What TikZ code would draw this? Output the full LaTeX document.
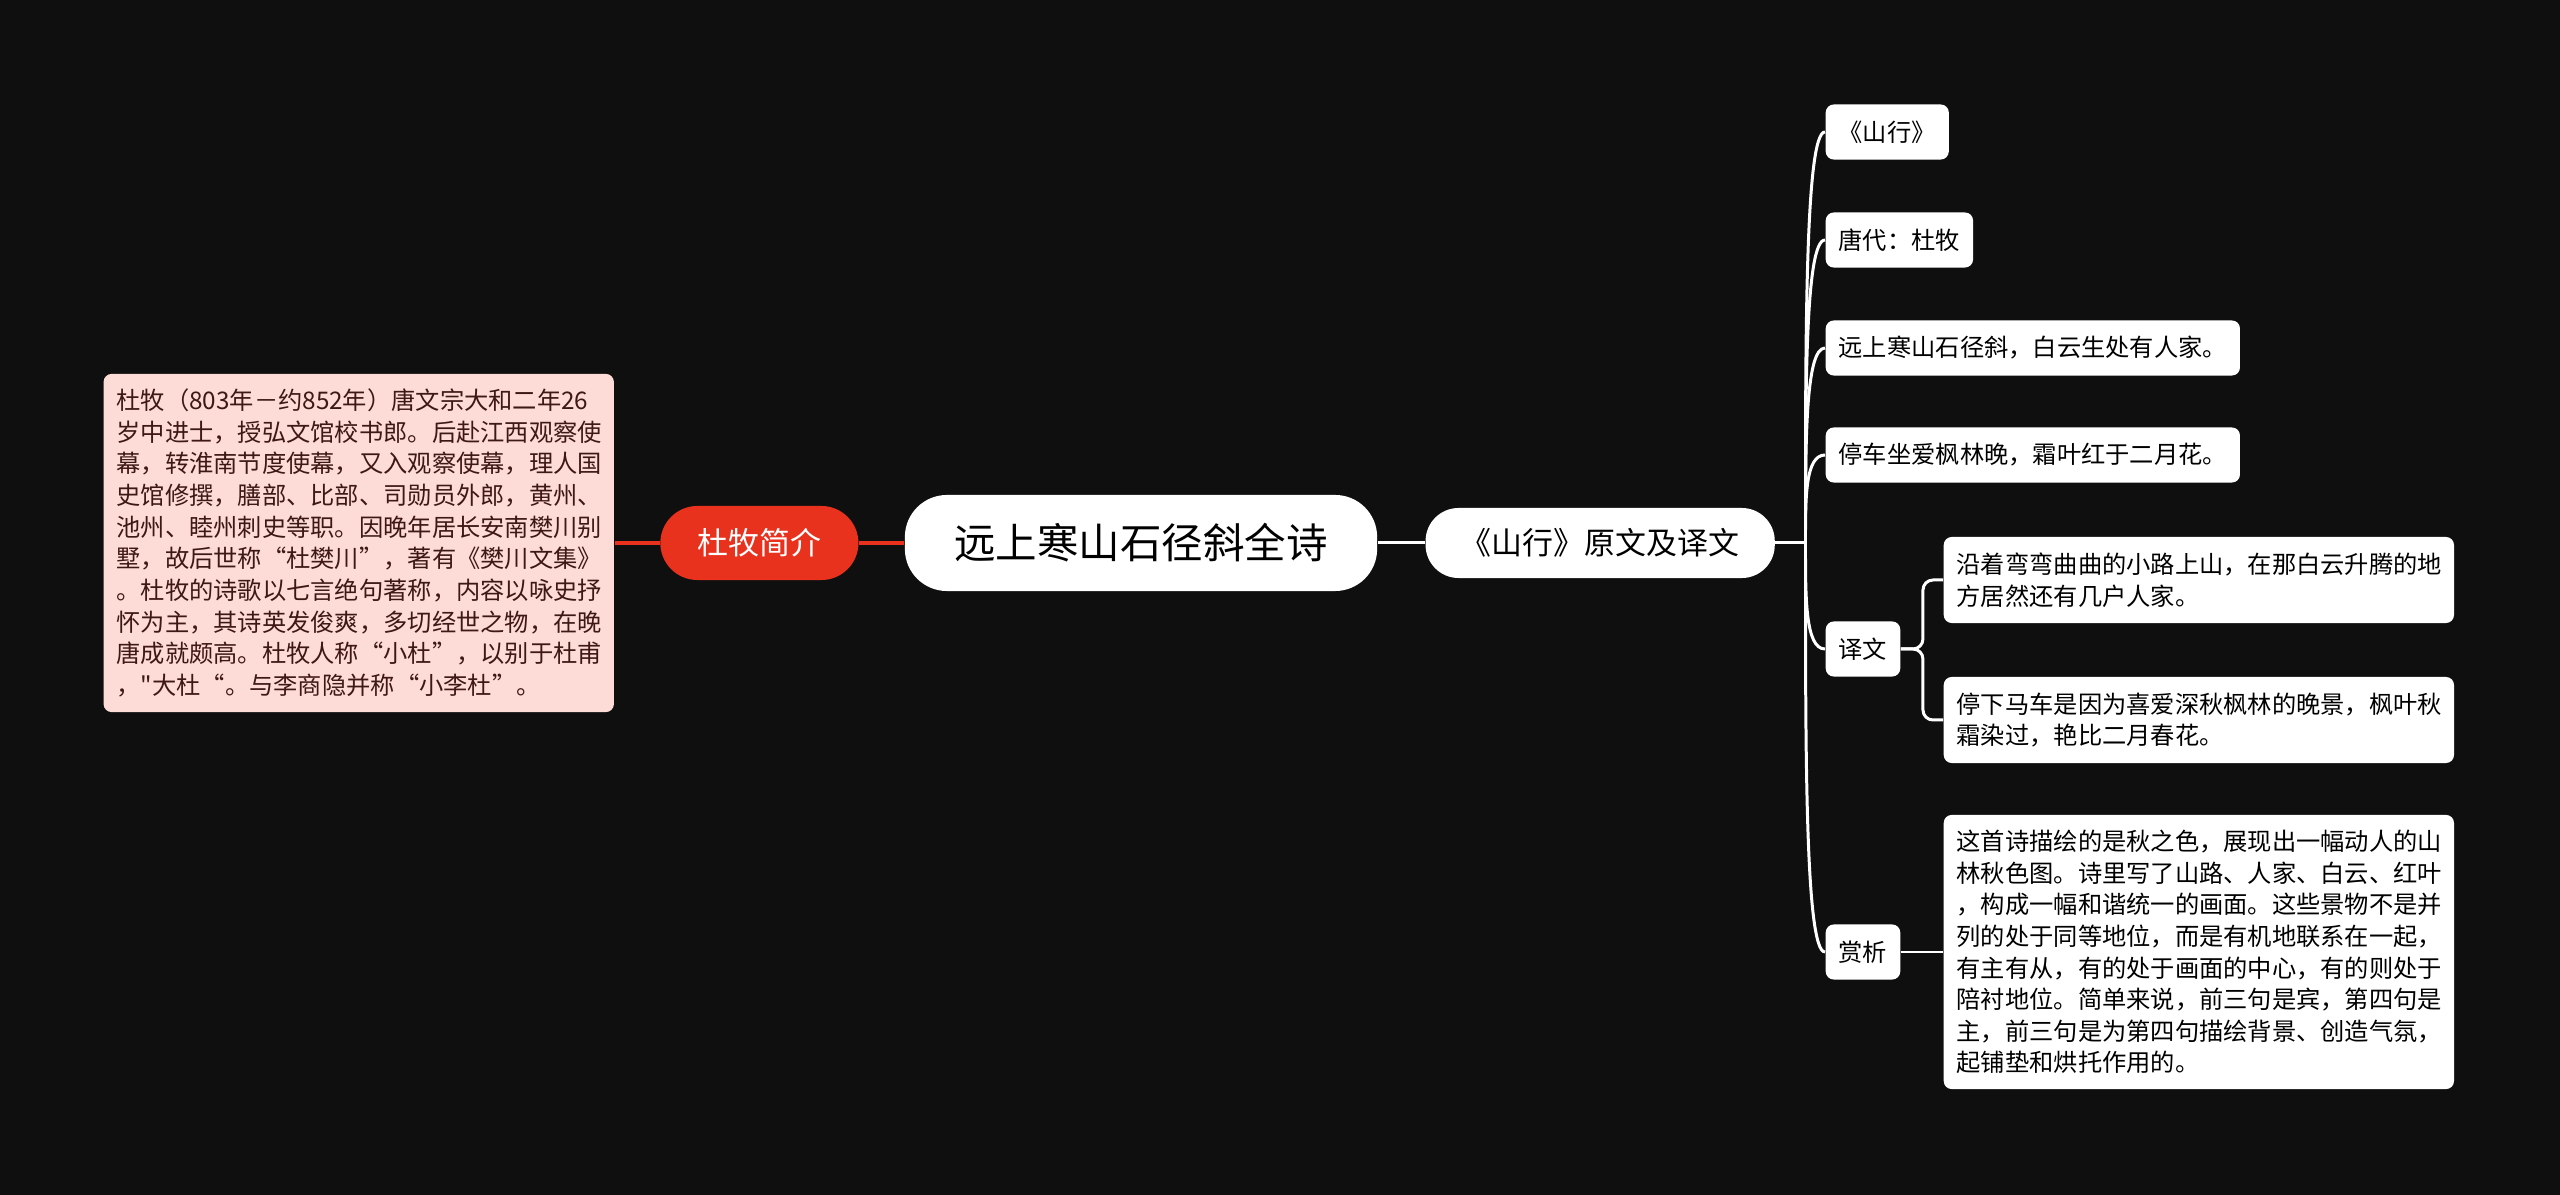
\documentclass[tikz,border=0pt]{standalone}
\usepackage{fontspec}
\setmainfont{Noto Sans CJK SC}[Ligatures=TeXOff]
\usetikzlibrary{positioning,calc}
\definecolor{mapBg}{RGB}{15,15,15}
\definecolor{mapRed}{RGB}{232,50,30}
\definecolor{mapPink}{RGB}{253,219,214}
\definecolor{mapBrown}{RGB}{62,24,20}
\tikzset{
	poembox/.style={
		align=left,
		inner xsep=0.13cm,
		inner ysep=0pt,
		rounded corners=0.08cm,
		font=\fontsize{6.9pt}{9pt}\selectfont
	},
	poemRoot/.style={fill=white, text=black, minimum width=4.72cm, minimum height=0.96cm, rounded corners=0.42cm, inner sep=0pt, font=\fontsize{11.8pt}{14pt}\selectfont},
	poemTopic/.style={fill=white, text=black, minimum width=3.49cm, minimum height=0.70cm, rounded corners=0.33cm, inner sep=0pt, font=\fontsize{8.8pt}{10pt}\selectfont},
	poemHot/.style={poemTopic, fill=mapRed, text=white, minimum width=1.98cm, minimum height=0.74cm, rounded corners=0.37cm},
	poemNote/.style={poembox, fill=mapPink, text=mapBrown, text width=4.84cm, minimum height=3.38cm},
	poemLeaf/.style={poembox, fill=white, text=black, minimum height=0.55cm, anchor=west},
	poemWide/.style={poemLeaf, text width=4.84cm},
	poemFlow/.style={draw=white, line width=0.85pt},
	poemRedFlow/.style={draw=mapRed, line width=1pt}
}

\begin{document}
\begin{tikzpicture}[x=0.01cm, y=-0.01cm]

	% Background
	\fill[mapBg] (0,0) rectangle (2560,1195);

	% Main row
	\node[poemRoot] (title) at (1141,543) {远上寒山石径斜全诗};
	\node[poemHot, left=0.45cm of title] (bio) {杜牧简介};
	\node[poemNote, left=0.45cm of bio] (biotext)
	{杜牧（803年－约852年）唐文宗大和二年26\\
	岁中进士，授弘文馆校书郎。后赴江西观察使\\
	幕，转淮南节度使幕，又入观察使幕，理人国\\
	史馆修撰，膳部、比部、司勋员外郎，黄州、\\
	池州、睦州刺史等职。因晚年居长安南樊川别\\
	墅，故后世称“杜樊川”，著有《樊川文集》\\
	。杜牧的诗歌以七言绝句著称，内容以咏史抒\\
	怀为主，其诗英发俊爽，多切经世之物，在晚\\
	唐成就颇高。杜牧人称“小杜”，以别于杜甫\\
	，"大杜“。与李商隐并称“小李杜”。};
	\node[poemTopic, right=0.47cm of title] (poem) {《山行》原文及译文};

	% Poem branch
	\node[poemLeaf, minimum width=1.22cm, align=center] (shanxing) at (1825,132) {《山行》};
	\node[poemLeaf] (tang) at (1825,240) {唐代：杜牧};
	\node[poemLeaf] (line1) at (1825,348) {远上寒山石径斜，白云生处有人家。};
	\node[poemLeaf] (line2) at (1825,455) {停车坐爱枫林晚，霜叶红于二月花。};
	\node[poemLeaf] (yiwen) at (1825,649) {译文};
	\node[poemLeaf] (shangxi) at (1825,952) {赏析};

	\node[poemWide, minimum height=0.86cm] (trans1) at (1943,580)
	{沿着弯弯曲曲的小路上山，在那白云升腾的地\\方居然还有几户人家。};
	\node[poemWide, minimum height=0.86cm] (trans2) at (1943,720)
	{停下马车是因为喜爱深秋枫林的晚景，枫叶秋\\霜染过，艳比二月春花。};
	\node[poemWide, minimum height=2.74cm] (comment) at (1943,952)
	{这首诗描绘的是秋之色，展现出一幅动人的山\\
	林秋色图。诗里写了山路、人家、白云、红叶\\
	，构成一幅和谐统一的画面。这些景物不是并\\
	列的处于同等地位，而是有机地联系在一起，\\
	有主有从，有的处于画面的中心，有的则处于\\
	陪衬地位。简单来说，前三句是宾，第四句是\\
	主，前三句是为第四句描绘背景、创造气氛，\\
	起铺垫和烘托作用的。};

	% Flows
	\draw[poemRedFlow] (biotext) -- (bio);
	\draw[poemRedFlow] (bio) -- (title);
	\draw[poemFlow] (title) -- (poem);

	\coordinate (hub) at ($(poem.east)+(30,0)$);
	\draw[poemFlow] (poem.east) -- (hub);
	\draw[poemFlow] (hub) .. controls +(0,-205) and +(-20,0) .. (shanxing.west);
	\draw[poemFlow] (hub) .. controls +(0,-150) and +(-20,0) .. (tang.west);
	\draw[poemFlow] (hub) .. controls +(0,-97) and +(-20,0) .. (line1.west);
	\draw[poemFlow] (hub) .. controls +(0,-44) and +(-20,0) .. (line2.west);
	\draw[poemFlow] (hub) .. controls +(0,53) and +(-20,0) .. (yiwen.west);
	\draw[poemFlow] (hub) .. controls +(0,205) and +(-20,0) .. (shangxi.west);

	\draw[poemFlow, rounded corners=0.1cm] (yiwen.east) -- ++(22,0) |- (trans1.west);
	\draw[poemFlow, rounded corners=0.1cm] (yiwen.east) -- ++(22,0) |- (trans2.west);
	\draw[poemFlow] (shangxi) -- (comment);

\end{tikzpicture}
\end{document}
